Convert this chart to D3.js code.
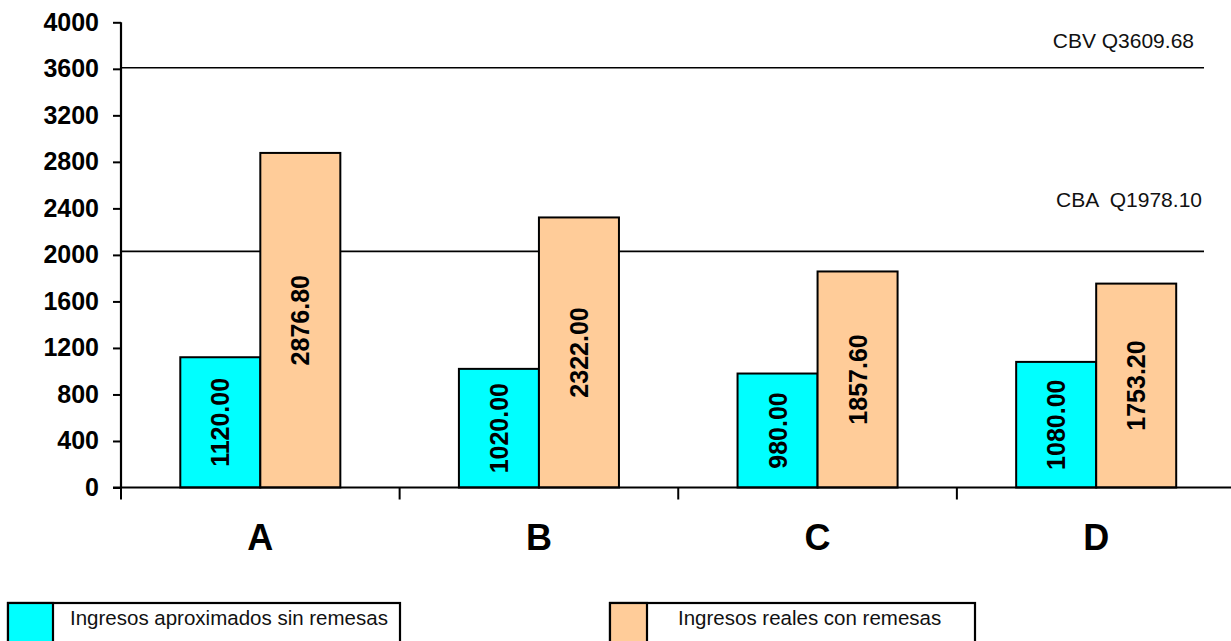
<!DOCTYPE html>
<html>
<head>
<meta charset="utf-8">
<script src="https://cdn.jsdelivr.net/npm/d3@7"></script>
<style>
  html, body { margin: 0; padding: 0; background: #fff; }
  svg { display: block; font-family: "Liberation Sans", Arial, sans-serif; }
</style>
</head>
<body>
<svg id="chart" width="1231" height="641"></svg>
<script>
// ---- data ----
const categories = ["A", "B", "C", "D"];
const seriesNames = ["Ingresos aproximados sin remesas", "Ingresos reales con remesas"];
const sinRemesas = [1120.00, 1020.00, 980.00, 1080.00];
const conRemesas = [2876.80, 2322.00, 1857.60, 1753.20];
const refLineValues = [3609.68, 2030];
const refLineLabels = ["CBV Q3609.68", "CBA  Q1978.10"];
const yTickValues = [0, 400, 800, 1200, 1600, 2000, 2400, 2800, 3200, 3600, 4000];
const seriesColors = ["#00FFFF", "#FFCC99"];

// ---- layout ----
const svg = d3.select("#chart");
const left = 121, right = 1235.5, zeroY = 487.5, topY = 22.3;

const x0 = d3.scaleBand().domain(categories).range([left, right]).paddingInner(0).paddingOuter(0);
const x1 = d3.scaleBand().domain(seriesNames).range([0, x0.bandwidth()]).paddingInner(0).paddingOuter(0.741);
const y = d3.scaleLinear().domain([0, 4000]).range([zeroY, topY]);

const rows = categories.map((c, i) => ({
  cat: c,
  values: [
    { name: seriesNames[0], v: sinRemesas[i], color: seriesColors[0] },
    { name: seriesNames[1], v: conRemesas[i], color: seriesColors[1] }
  ]
}));

// reference lines
svg.append("g").selectAll("line").data(refLineValues).join("line")
  .attr("x1", left).attr("x2", 1204)
  .attr("y1", d => y(d)).attr("y2", d => y(d))
  .attr("stroke", "#000").attr("stroke-width", 1.6);

const refLabelEnd = [1194, 1202];
const refLabelOffset = [-19.5, -44];
svg.append("g").selectAll("text").data(refLineValues).join("text")
  .attr("x", (d, i) => refLabelEnd[i])
  .attr("y", (d, i) => y(d) + refLabelOffset[i])
  .attr("text-anchor", "end")
  .style("white-space", "pre")
  .attr("font-size", 21)
  .attr("fill", "#111")
  .text((d, i) => refLineLabels[i]);

// bars
const groups = svg.append("g").selectAll("g").data(rows).join("g")
  .attr("transform", d => `translate(${x0(d.cat)},0)`);

groups.selectAll("rect").data(d => d.values).join("rect")
  .attr("x", d => x1(d.name))
  .attr("y", d => y(d.v))
  .attr("width", x1.bandwidth())
  .attr("height", d => zeroY - y(d.v))
  .attr("fill", d => d.color)
  .attr("stroke", "#000")
  .attr("stroke-width", 2);

groups.selectAll("text").data(d => d.values).join("text")
  .attr("transform", d => `translate(${x1(d.name) + x1.bandwidth() / 2},${(y(d.v) + zeroY) / 2}) rotate(-90)`)
  .attr("text-anchor", "middle")
  .attr("dominant-baseline", "central")
  .attr("font-size", 25)
  .attr("font-weight", "bold")
  .attr("fill", "#000")
  .text(d => d.v.toFixed(2));

// y axis
const yAxis = d3.axisLeft(y).tickValues(yTickValues).tickSize(8).tickPadding(14).tickFormat(d3.format("d"));
const gy = svg.append("g").attr("transform", `translate(${left},0)`).call(yAxis);
gy.select(".domain").attr("stroke", "#000").attr("stroke-width", 2.2).attr("d", `M-0,${topY}V${zeroY}`);
gy.selectAll(".tick line").attr("stroke", "#000").attr("stroke-width", 2);
gy.selectAll(".tick text").attr("font-size", 25).attr("font-weight", "bold").attr("fill", "#000")
  .attr("font-family", "Liberation Sans, Arial, sans-serif");

// x axis
const xAxis = d3.axisBottom(x0).tickSize(0).tickPadding(37);
const gx = svg.append("g").attr("transform", `translate(0,${zeroY})`).call(xAxis);
gx.select(".domain").attr("stroke", "#000").attr("stroke-width", 2.2).attr("d", `M${left - 8},0H${right}`);
gx.selectAll(".tick text").attr("font-size", 36).attr("font-weight", "bold").attr("fill", "#000")
  .attr("font-family", "Liberation Sans, Arial, sans-serif");
gx.append("g").selectAll("line").data(categories).join("line")
  .attr("x1", d => x0(d)).attr("x2", d => x0(d))
  .attr("y1", 0).attr("y2", 12)
  .attr("stroke", "#000").attr("stroke-width", 2);

// legend
const legendBoxes = [
  { x: 8, w: 392, sw: 45, tx: 70 },
  { x: 610, w: 365, sw: 37, tx: 678 }
];
const lg = svg.append("g").selectAll("g").data(seriesNames).join("g")
  .attr("transform", (d, i) => `translate(${legendBoxes[i].x},603)`);
lg.append("rect")
  .attr("width", (d, i) => legendBoxes[i].w).attr("height", 60)
  .attr("fill", "#fff").attr("stroke", "#000").attr("stroke-width", 2.2);
lg.append("rect")
  .attr("width", (d, i) => legendBoxes[i].sw).attr("height", 60)
  .attr("fill", (d, i) => seriesColors[i]).attr("stroke", "#000").attr("stroke-width", 2.2);
lg.append("text")
  .attr("x", (d, i) => legendBoxes[i].tx - legendBoxes[i].x)
  .attr("y", 22)
  .attr("font-size", 20.5)
  .attr("fill", "#111")
  .text(d => d);
</script>
</body>
</html>
